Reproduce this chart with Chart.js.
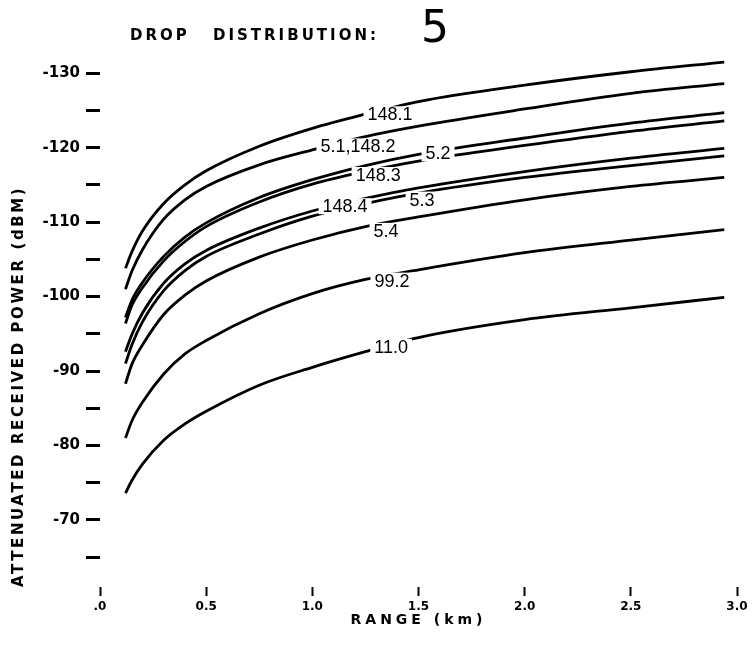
<!DOCTYPE html>
<html>
<head>
<meta charset="utf-8">
<title>Drop distribution 5</title>
<script src="https://cdn.jsdelivr.net/npm/chart.js@4/dist/chart.umd.min.js"></script>
<style>
  html, body { margin: 0; padding: 0; background: #fff; }
  canvas { display: block; }
</style>
</head>
<body>
<canvas id="dropChart" width="755" height="650"></canvas>
<script>
// Range in km (shared by all curves)
const rangeKm = [0.12, 0.15, 0.2, 0.3, 0.4, 0.5, 0.75, 1.0, 1.25, 1.5, 2.0, 2.5, 2.94];

// Attenuated received power (dBm)
const p148_1 = [-103.8, -106.0, -108.8, -112.5, -115.0, -116.9, -120.2, -122.6, -124.5, -126.2, -128.4, -130.2, -131.5];
const p5_1_148_2 = [-101.0, -103.4, -106.3, -110.4, -113.0, -114.8, -117.7, -119.7, -121.5, -122.9, -125.2, -127.3, -128.6];
const p5_2 = [-97.2, -99.5, -101.9, -105.4, -108.0, -109.9, -113.3, -115.7, -117.6, -119.1, -121.3, -123.3, -124.7];
const p148_3 = [-96.4, -98.8, -101.2, -104.8, -107.4, -109.4, -112.7, -115.1, -116.8, -118.2, -120.3, -122.2, -123.6];
const p148_4 = [-92.6, -94.9, -97.8, -101.8, -104.4, -106.2, -109.2, -111.5, -113.2, -114.6, -116.8, -118.6, -119.9];
const p5_3 = [-91.0, -93.5, -96.6, -100.8, -103.5, -105.4, -108.4, -110.8, -112.5, -113.9, -116.0, -117.6, -118.9];
const p5_4 = [-88.3, -90.9, -93.5, -97.6, -100.2, -102.1, -105.3, -107.6, -109.4, -110.7, -113.0, -114.8, -116.0];
const p99_2 = [-81.0, -83.3, -85.8, -89.6, -92.3, -94.1, -97.7, -100.4, -102.3, -103.6, -105.9, -107.6, -109.0];
const p11_0 = [-73.6, -75.3, -77.5, -80.7, -82.9, -84.6, -88.1, -90.5, -92.6, -94.5, -96.9, -98.5, -99.9];

const curveNames = ['148.1', '5.1,148.2', '5.2', '148.3', '148.4', '5.3', '5.4', '99.2', '11.0'];
const curveValues = [p148_1, p5_1_148_2, p5_2, p148_3, p148_4, p5_3, p5_4, p99_2, p11_0];

// Axis ticks
const xTicks = [0, 0.5, 1.0, 1.5, 2.0, 2.5, 3.0];
const xTickLabels = ['.0', '0.5', '1.0', '1.5', '2.0', '2.5', '3.0'];
const yTicks = [-130, -125, -120, -115, -110, -105, -100, -95, -90, -85, -80, -75, -70, -65];

// where each curve name sits along its line (km) and how far below it (px)
const curveLabels = [
  { series: 0, km: 1.366, dy: 6 },
  { series: 1, km: 1.215, dy: 8 },
  { series: 2, km: 1.592, dy: 2 },
  { series: 3, km: 1.31, dy: 6 },
  { series: 4, km: 1.154, dy: 3 },
  { series: 5, km: 1.517, dy: 7 },
  { series: 6, km: 1.347, dy: 8 },
  { series: 7, km: 1.375, dy: 6 },
  { series: 8, km: 1.371, dy: 2 }
];

function valueAt(values, km) {
  for (let i = 1; i < rangeKm.length; i++) {
    if (km <= rangeKm[i]) {
      const t = (km - rangeKm[i - 1]) / (rangeKm[i] - rangeKm[i - 1]);
      return values[i - 1] + t * (values[i] - values[i - 1]);
    }
  }
  return values[values.length - 1];
}

// curve names drawn on the lines, with a white gap behind them
const curveLabelPlugin = {
  id: 'curveLabels',
  afterDatasetsDraw(chart) {
    const { ctx, scales: { x, y } } = chart;
    ctx.save();
    ctx.font = '18px "Liberation Sans"';
    ctx.textAlign = 'center';
    ctx.textBaseline = 'middle';
    curveLabels.forEach(lab => {
      const text = curveNames[lab.series];
      const px = x.getPixelForValue(lab.km);
      const py = y.getPixelForValue(valueAt(curveValues[lab.series], lab.km)) + lab.dy;
      const w = ctx.measureText(text).width;
      ctx.fillStyle = '#fff';
      ctx.fillRect(px - w / 2 - 4, py - 8, w + 8, 16);
      ctx.fillStyle = '#000';
      ctx.fillText(text, px, py + 1);
    });
    ctx.restore();
  }
};

// heading and axis titles (letter spaced like the original lettering)
const titlePlugin = {
  id: 'titles',
  afterDraw(chart) {
    const { ctx, chartArea } = chart;
    ctx.save();
    ctx.fillStyle = '#000';
    ctx.textAlign = 'left';
    ctx.textBaseline = 'alphabetic';
    ctx.letterSpacing = '3px';
    ctx.font = 'bold 15px "DejaVu Sans"';
    ctx.fillText('DROP', 130, 40);
    ctx.fillText('DISTRIBUTION:', 213, 40);
    ctx.letterSpacing = '0px';
    ctx.font = '44px "DejaVu Sans"';
    ctx.fillText('5', 421, 42);

    ctx.letterSpacing = '4px';
    ctx.font = 'bold 14px "DejaVu Sans"';
    ctx.textAlign = 'center';
    ctx.fillText('RANGE (km)', (chartArea.left + chartArea.right) / 2, 624);

    ctx.translate(19, 587);
    ctx.rotate(-Math.PI / 2);
    ctx.textAlign = 'left';
    ctx.textBaseline = 'middle';
    ctx.letterSpacing = '2.6px';
    ctx.font = 'bold 15px "DejaVu Sans"';
    ctx.fillText('ATTENUATED RECEIVED POWER (dBM)', 0, 0);
    ctx.restore();
  }
};

function drawChart() {
  const ctx = document.getElementById('dropChart').getContext('2d');
  const datasets = curveValues.map((vals, i) => ({
    label: curveNames[i],
    data: rangeKm.map((km, j) => ({ x: km, y: vals[j] })),
    borderColor: '#000',
    borderWidth: 2.8,
    pointRadius: 0,
    fill: false,
    cubicInterpolationMode: 'monotone'
  }));

  new Chart(ctx, {
    type: 'line',
    data: { datasets },
    options: {
      responsive: false,
      animation: false,
      layout: { padding: { top: 36, right: 18, left: 0, bottom: 0 } },
      plugins: { legend: { display: false }, tooltip: { enabled: false } },
      scales: {
        x: {
          type: 'linear',
          min: 0,
          max: 3,
          afterFit: s => { s.height = 63; },
          afterBuildTicks: s => { s.ticks = xTicks.map(v => ({ value: v })); },
          ticks: {
            color: '#000',
            padding: 4,
            maxRotation: 0,
            autoSkip: false,
            font: { family: 'DejaVu Sans', size: 12, weight: 'bold' },
            callback: v => xTickLabels[xTicks.indexOf(v)]
          },
          grid: { drawOnChartArea: false, tickLength: 9, tickWidth: 2, tickColor: '#000' },
          border: { display: false }
        },
        y: {
          type: 'linear',
          reverse: true,
          min: -135,
          max: -61,
          afterFit: s => { s.width = 100; },
          afterBuildTicks: s => { s.ticks = yTicks.map(v => ({ value: v })); },
          ticks: {
            color: '#000',
            padding: 6,
            autoSkip: false,
            font: { family: 'DejaVu Sans', size: 15, weight: 'bold' },
            callback: v => (v % 10 === 0 ? String(v) : '')
          },
          grid: { drawOnChartArea: false, tickLength: 14, tickWidth: 3, tickColor: '#000' },
          border: { display: false }
        }
      }
    },
    plugins: [curveLabelPlugin, titlePlugin]
  });
}

document.addEventListener('DOMContentLoaded', drawChart);
</script>
</body>
</html>
